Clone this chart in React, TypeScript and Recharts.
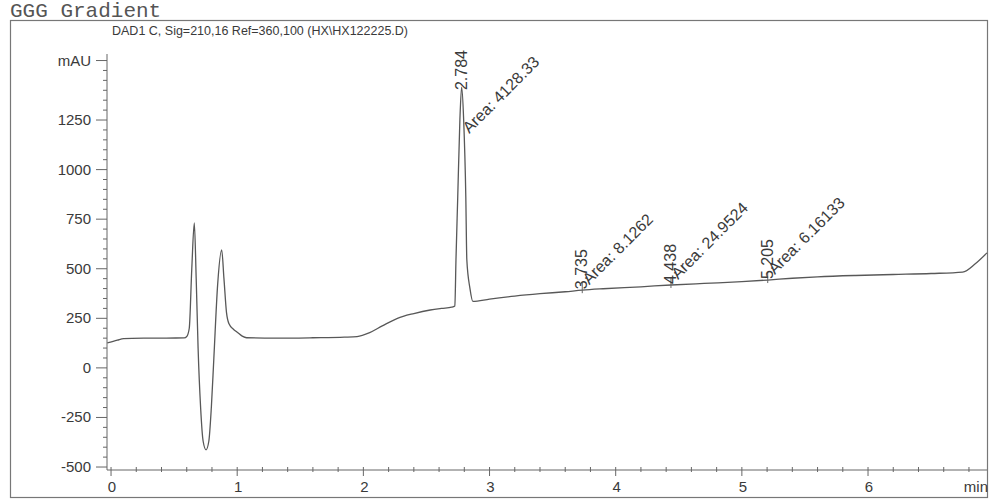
import React from "react";
import { ComposedChart, Line, Scatter, XAxis, YAxis } from "recharts";

// retention time (min)
const timeMin = [
  -0.03, 0.05, 0.1, 0.3, 0.58, 0.6, 0.62, 0.64, 0.66, 0.675, 0.69, 0.71, 0.73, 0.753, 0.775, 0.795,
  0.815, 0.845, 0.877, 0.895, 0.915, 0.935, 0.97, 1.0, 1.04, 1.075, 1.3, 1.6, 1.85, 1.95, 2.05, 2.15,
  2.27, 2.4, 2.53, 2.62, 2.7, 2.725, 2.734, 2.748, 2.765, 2.779, 2.795, 2.812, 2.82, 2.845, 2.868,
  3.0, 3.2, 3.4, 3.6, 3.735, 3.9, 4.2, 4.438, 4.7, 5.0, 5.205, 5.4, 5.6, 5.9, 6.2, 6.5, 6.75, 6.85,
  6.943,
];
// detector signal (mAU)
const signalMAU = [
  126, 140, 148, 150, 151, 158, 200, 500, 731, 450, 100, -200, -370, -413, -370, -200,
  50, 420, 595, 450, 280, 222, 195, 180, 160, 152, 150, 152, 155, 158, 178, 212,
  250, 274, 292, 300, 306, 312, 545, 862, 1250, 1416, 1250, 862, 545, 400, 335,
  347, 362, 374, 384, 392, 399, 409, 418, 426, 435, 443, 452, 459, 466, 471, 476, 483, 525,
  580,
];

const peakTimes = [2.784, 3.735, 4.438, 5.205];
const peakHeights = [1416, 392, 418, 443];
const peakRtLabels = ["2.784", "3.735", "4.438", "5.205"];
const peakAreaLabels = ["4128.33", "8.1262", "24.9524", "6.16133"];

const yMajorTicks = [-500, -250, 0, 250, 500, 750, 1000, 1250];
const yMinorTicks = [
  -450, -400, -350, -300, -200, -150, -100, -50, 50, 100, 150, 200, 300, 350, 400, 450,
  550, 600, 650, 700, 800, 850, 900, 950, 1050, 1100, 1150, 1200, 1300, 1350, 1400, 1450, 1500,
];
const yUnitTick = 1550;
const yUnitLabel = "mAU";

const xMajorTicks = [0, 1, 2, 3, 4, 5, 6];
const xMinorTicks = [
  0.2, 0.4, 0.6, 0.8, 1.2, 1.4, 1.6, 1.8, 2.2, 2.4, 2.6, 2.8, 3.2, 3.4, 3.6, 3.8,
  4.2, 4.4, 4.6, 4.8, 5.2, 5.4, 5.6, 5.8, 6.2, 6.4, 6.6, 6.8,
];
const xUnitTick = 6.943;
const xUnitLabel = "min";

const titleText = "GGG Gradient";
const signalText = "DAD1 C, Sig=210,16 Ref=360,100 (HX\\HX122225.D)";

const traceRows = timeMin.map((t, i) => ({ t, v: signalMAU[i] }));
const peakRows = peakTimes.map((t, i) => ({
  t,
  v: peakHeights[i],
  rt: peakRtLabels[i],
  area: peakAreaLabels[i],
}));

const yAllTicks = [...yMajorTicks, ...yMinorTicks, yUnitTick].sort((a, b) => a - b);
const xAllTicks = [...xMajorTicks, ...xMinorTicks, xUnitTick].sort((a, b) => a - b);

const FONT = "'Liberation Sans', Arial, sans-serif";
const INK = "#3a3a3a";
const AXIS = "#666";

const YTick = (props: any) => {
  const { x, y, payload } = props;
  const v = payload.value;
  const major = yMajorTicks.includes(v) || v === yUnitTick;
  const label = v === yUnitTick ? yUnitLabel : major ? String(v) : "";
  return (
    <g>
      <line x1={x - (major ? 11 : 4)} x2={x} y1={y} y2={y} stroke={AXIS} strokeWidth={1} />
      {label && (
        <text x={x - 16} y={y + 5} textAnchor="end" fontSize={15} fontFamily={FONT} fill={INK}>
          {label}
        </text>
      )}
    </g>
  );
};

const XTick = (props: any) => {
  const { x, y, payload } = props;
  const v = payload.value;
  if (v === xUnitTick) {
    return (
      <text x={x + 1} y={y + 22} textAnchor="end" fontSize={15} fontFamily={FONT} fill={INK}>
        {xUnitLabel}
      </text>
    );
  }
  const major = xMajorTicks.includes(v);
  return (
    <g>
      <line x1={x} x2={x} y1={y - 3} y2={y + (major ? 6 : 2)} stroke={AXIS} strokeWidth={1} />
      {major && (
        <text x={x + 1} y={y + 22} textAnchor="middle" fontSize={15} fontFamily={FONT} fill={INK}>
          {String(v)}
        </text>
      )}
    </g>
  );
};

const PeakLabel = (props: any) => {
  const { cx, cy, payload } = props;
  if (cx == null || cy == null) return null;
  const tall = payload.v > 1000;
  return (
    <g>
      {!tall && <line x1={cx} x2={cx} y1={cy - 8} y2={cy + 3} stroke={AXIS} strokeWidth={1} />}
      <text
        transform={`translate(${cx + 5},${cy + (tall ? 3 : -1)}) rotate(-90)`}
        fontSize={16}
        fontFamily={FONT}
        fill={INK}
      >
        {payload.rt}
      </text>
      <text
        transform={`translate(${cx + 7},${cy + (tall ? 47 : -5)}) rotate(-45)`}
        fontSize={16}
        fontFamily={FONT}
        fill={INK}
      >
        {"Area: " + payload.area}
      </text>
    </g>
  );
};

export default function App() {
  return (
    <div
      style={{
        position: "absolute",
        left: 0,
        top: 0,
        width: 997,
        height: 501,
        background: "#fff",
        overflow: "hidden",
      }}
    >
      <svg width={997} height={501} style={{ position: "absolute", left: 0, top: 0 }}>
        <rect x={10.5} y={20.5} width={977} height={477} fill="none" stroke="#777" strokeWidth={1.2} />
        <text x={10} y={17} fontSize={21} fontFamily="'Liberation Mono', 'DejaVu Sans Mono', monospace" fill="#555">
          {titleText}
        </text>
        <text x={112} y={35} fontSize={12.5} fontFamily={FONT} fill={INK}>
          {signalText}
        </text>
      </svg>
      <div style={{ position: "absolute", left: 0, top: 0 }}>
        <ComposedChart
          width={997}
          height={501}
          data={traceRows}
          margin={{ top: 54, right: 10, bottom: 1, left: 0 }}
        >
          <XAxis
            dataKey="t"
            type="number"
            domain={[-0.032, 6.943]}
            ticks={xAllTicks}
            interval={0}
            tickSize={0}
            tickMargin={0}
            tickLine={false}
            axisLine={{ stroke: AXIS }}
            tick={XTick}
            height={30}
          />
          <YAxis
            type="number"
            domain={[-515, 1583]}
            ticks={yAllTicks}
            interval={0}
            width={107}
            tickSize={0}
            tickMargin={0}
            tickLine={false}
            axisLine={{ stroke: AXIS }}
            tick={YTick}
          />
          <Line
            dataKey="v"
            type="monotone"
            stroke="#585858"
            strokeWidth={1.3}
            dot={false}
            isAnimationActive={false}
          />
          <Scatter data={peakRows} dataKey="v" shape={PeakLabel} isAnimationActive={false} />
        </ComposedChart>
      </div>
    </div>
  );
}
